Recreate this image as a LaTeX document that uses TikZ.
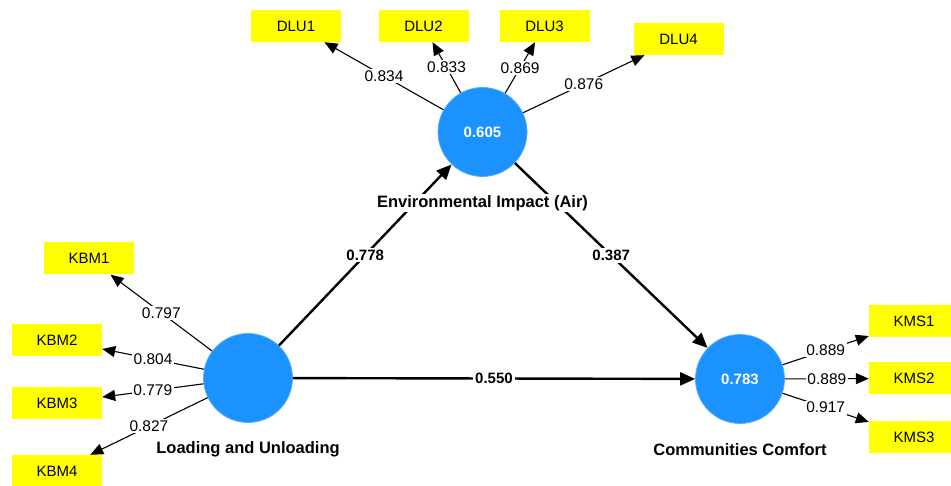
\documentclass[tikz,border=0pt]{standalone}
\usepackage{fontspec}
\setmainfont{Liberation Sans}
\usetikzlibrary{arrows.meta}
\definecolor{lvblue}{RGB}{28,146,255}
\definecolor{mvyellow}{RGB}{255,255,0}
\begin{document}
\begin{tikzpicture}[x=1pt,y=-1pt,
  lv/.style={circle,fill=lvblue,draw=lvblue!75!white,line width=0.8pt,minimum size=89pt,inner sep=0pt,text=white,font=\fontsize{15}{18}\selectfont\bfseries},
  mv/.style={rectangle,fill=mvyellow,minimum width=90pt,minimum height=32pt,inner sep=0pt,font=\fontsize{15}{18}\selectfont},
  load/.style={line width=1.1pt,-{Triangle[length=13pt,width=11pt]}},
  strpath/.style={line width=2.4pt,-{Triangle[length=15pt,width=13pt]}},
  lbl/.style={fill=white,inner sep=1.5pt,font=\fontsize{15.5}{18}\selectfont},
  plbl/.style={fill=white,inner sep=2pt,font=\fontsize{15}{18}\selectfont\bfseries},
  cname/.style={fill=white,inner sep=1.5pt,font=\fontsize{16.5}{20}\selectfont\bfseries}]
\useasboundingbox (0,0) rectangle (951,486);

% latent variables
\node[lv] (EI) at (482.5,132) {0.605};
\node[lv] (LU) at (248,378) {};
\node[lv] (CC) at (740,379) {0.783};

% indicators
\node[mv] (DLU1) at (296,26) {DLU1};
\node[mv] (DLU2) at (423.5,26) {DLU2};
\node[mv] (DLU3) at (544.5,26) {DLU3};
\node[mv] (DLU4) at (678.5,39) {DLU4};
\node[mv] (KBM1) at (89,258.5) {KBM1};
\node[mv] (KBM2) at (57,340) {KBM2};
\node[mv] (KBM3) at (57,403) {KBM3};
\node[mv] (KBM4) at (57,471) {KBM4};
\node[mv] (KMS1) at (914,321) {KMS1};
\node[mv] (KMS2) at (914,378.5) {KMS2};
\node[mv] (KMS3) at (914,437) {KMS3};

% outer loadings
\draw[load] (EI) -- node[lbl]{0.834} (DLU1);
\draw[load] (EI) -- node[lbl]{0.833} (DLU2);
\draw[load] (EI) -- node[lbl]{0.869} (DLU3);
\draw[load] (EI) -- node[lbl]{0.876} (DLU4);
\draw[load] (LU) -- node[lbl]{0.797} (KBM1);
\draw[load] (LU) -- node[lbl]{0.804} (KBM2);
\draw[load] (LU) -- node[lbl]{0.779} (KBM3);
\draw[load] (LU) -- node[lbl]{0.827} (KBM4);
\draw[load] (CC) -- node[lbl]{0.889} (KMS1);
\draw[load] (CC) -- node[lbl]{0.889} (KMS2);
\draw[load] (CC) -- node[lbl]{0.917} (KMS3);

% structural paths
\draw[strpath] (LU) -- node[plbl]{0.778} (EI);
\draw[strpath] (EI) -- node[plbl]{0.387} (CC);
\draw[strpath] (LU) -- node[plbl]{0.550} (CC);

% construct names
\node[cname] (EIname) at ([yshift=-26pt]EI.south) {Environmental Impact (Air)};
\node[cname] (LUname) at ([yshift=-26pt]LU.south) {Loading and Unloading};
\node[cname] (CCname) at ([yshift=-26pt]CC.south) {Communities Comfort};
\end{tikzpicture}
\end{document}
